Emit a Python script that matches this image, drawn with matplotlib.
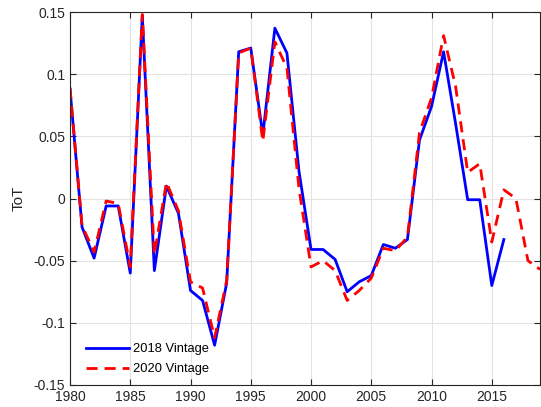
import numpy as np
import matplotlib
matplotlib.use('Agg')
import matplotlib.pyplot as plt

plt.rcParams['font.family'] = ['Liberation Sans', 'DejaVu Sans']

years_2018 = np.arange(1980, 2017)
tot_2018 = [0.088, -0.023, -0.048, -0.006, -0.006, -0.060, 0.147, -0.058, 0.010, -0.012,
            -0.074, -0.082, -0.118, -0.068, 0.118, 0.121, 0.051, 0.137, 0.117, 0.022,
            -0.041, -0.041, -0.049, -0.075, -0.067, -0.062, -0.037, -0.040, -0.033, 0.047,
            0.074, 0.118, 0.060, -0.001, -0.001, -0.070, -0.033]

years_2020 = np.arange(1980, 2020)
tot_2020 = [0.089, -0.022, -0.043, -0.002, -0.004, -0.055, 0.148, -0.045, 0.013, -0.010,
            -0.067, -0.072, -0.112, -0.066, 0.117, 0.121, 0.046, 0.126, 0.105, 0.008,
            -0.055, -0.050, -0.058, -0.082, -0.074, -0.064, -0.040, -0.042, -0.031, 0.053,
            0.081, 0.131, 0.090, 0.021, 0.028, -0.035, 0.007, 0.000, -0.050, -0.057]

fig = plt.figure(figsize=(5.41, 4.07), dpi=100)
ax = fig.add_axes([70/541, 22/407, 470/541, 373/407])

ax.plot(years_2018, tot_2018, color='#0000ff', lw=2.0, label='2018 Vintage')
ax.plot(years_2020, tot_2020, color='#ff0000', lw=2.0, ls=(0, (4, 2.5)), label='2020 Vintage')

ax.set_xlim(1980, 2019)
ax.set_ylim(-0.15, 0.15)
ax.set_xticks(np.arange(1980, 2016, 5))
ax.set_yticks([-0.15, -0.1, -0.05, 0, 0.05, 0.1, 0.15])
ax.set_yticklabels(['-0.15', '-0.1', '-0.05', '0', '0.05', '0.1', '0.15'])
ax.grid(True, color='#e3e3e3', lw=0.8)
ax.set_axisbelow(True)
ax.tick_params(direction='in', top=True, right=True, length=4, labelsize=10,
               colors='#262626', width=0.8)
for s in ax.spines.values():
    s.set_color('#262626')
    s.set_linewidth(0.8)
ax.set_ylabel('ToT', fontsize=11, color='#262626', labelpad=6)

leg = ax.legend(loc='lower left', bbox_to_anchor=(0.01, -0.005), frameon=False,
                fontsize=9.3, handlelength=3.3, labelspacing=0.6, handletextpad=0.3)

fig.savefig('out.png', dpi=100)
